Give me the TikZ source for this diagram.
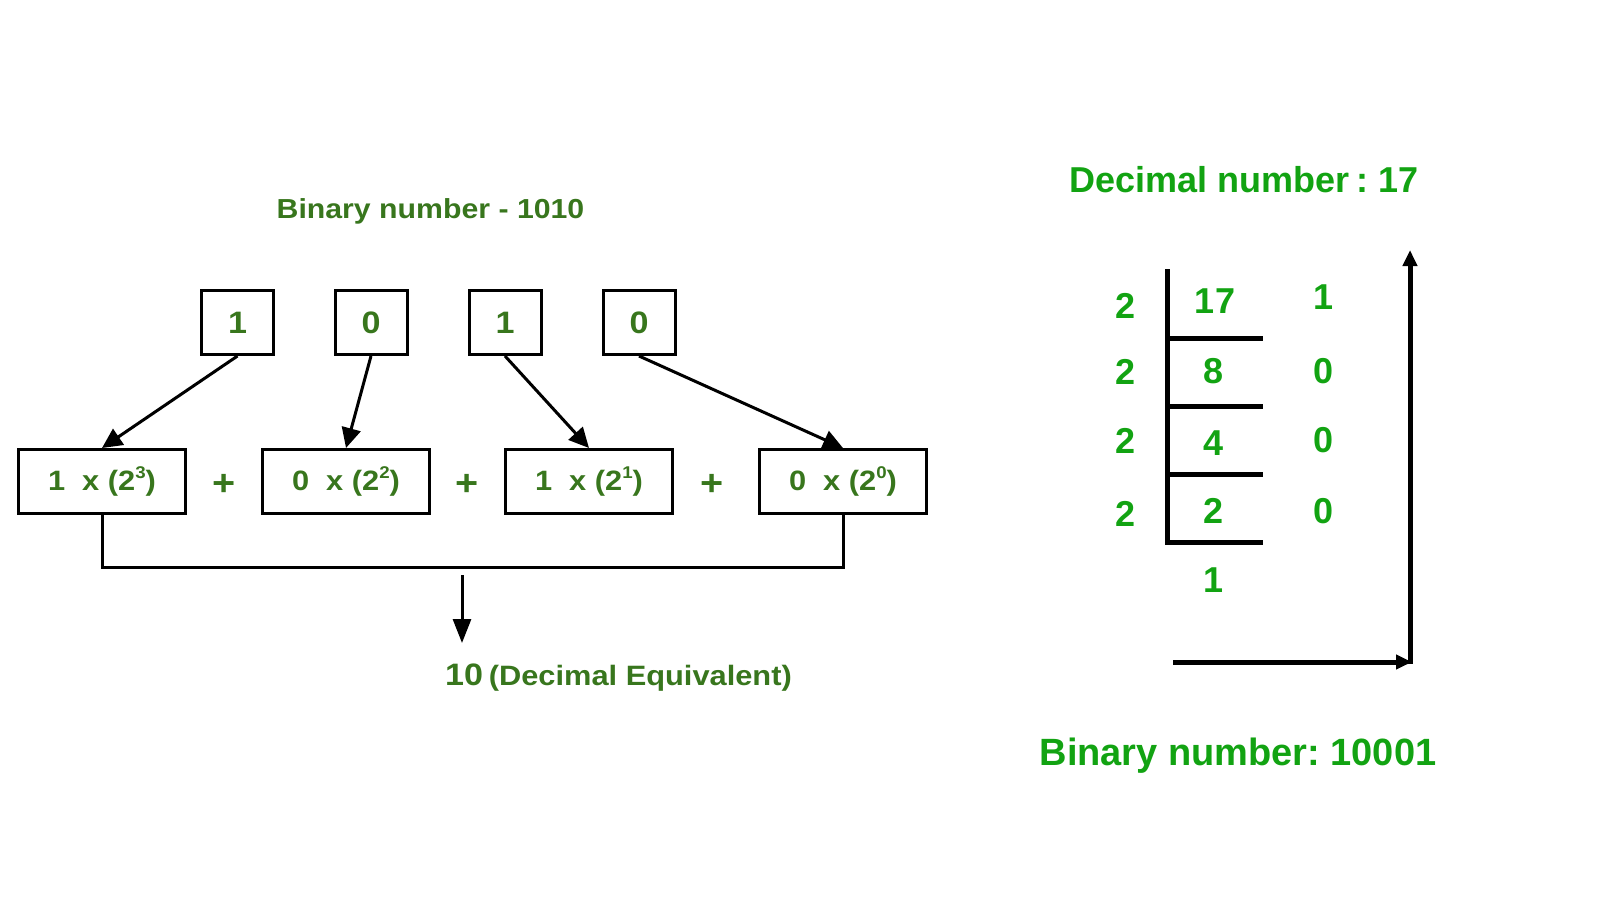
\documentclass[tikz,border=0pt]{standalone}
\usepackage{fontspec}
\setmainfont{Liberation Sans}
\newfontfamily\lfont[FakeStretch=1.1]{Liberation Sans}
\usetikzlibrary{arrows.meta}
\definecolor{dgreen}{RGB}{56,118,29}
\definecolor{bgreen}{RGB}{18,163,18}
\newcommand\supx[1]{\raisebox{0.45em}{\fontsize{17}{17}\selectfont #1}}
\begin{document}
\begin{tikzpicture}[x=1pt,y=-1pt,
  topbox/.style={draw,line width=3pt,minimum width=72pt,minimum height=64pt,inner sep=0pt,text=dgreen,font=\lfont\bfseries\fontsize{31}{31}\selectfont},
  botbox/.style={draw,line width=3pt,minimum width=167pt,minimum height=64pt,inner sep=0pt,text=dgreen,font=\lfont\bfseries\fontsize{28}{28}\selectfont},
  plussign/.style={text=dgreen,inner sep=0pt,font=\lfont\bfseries\fontsize{36}{36}\selectfont},
  ltitle/.style={text=dgreen,inner sep=0pt,anchor=base,font=\lfont\bfseries\fontsize{27.5}{27.5}\selectfont},
  conn/.style={line width=3pt,-{Triangle[length=20pt,width=19pt]}},
  resarrow/.style={line width=3pt,-{Triangle[length=24pt,width=18pt]}},
  rtext/.style={text=bgreen,inner sep=0pt,anchor=base,font=\bfseries\fontsize{36}{36}\selectfont},
  divline/.style={line width=5pt},
  bigarrow/.style={line width=5pt,-{Triangle[length=16pt,width=14pt]}}]
\useasboundingbox (0,0) rectangle (1600,900);

% ---------- left: binary to decimal ----------
\node[ltitle] (title) at (430.5,218) {Binary number - 1010};

\node[topbox] (t1) at (237.5,322.5) {1};
\node[topbox] (t2) at (371,322.5) {0};
\node[topbox] (t3) at (505,322.5) {1};
\node[topbox] (t4) at (639,322.5) {0};

\node[botbox] (b1) at (102,481.5) {1\ \ x (2\supx{3})};
\node[botbox] (b2) at (346,481.5) {0\ \ x (2\supx{2})};
\node[botbox] (b3) at (589,481.5) {1\ \ x (2\supx{1})};
\node[botbox] (b4) at (843,481.5) {0\ \ x (2\supx{0})};

\node[plussign] (p1) at (224,485) {+};
\node[plussign] (p2) at (467,485) {+};
\node[plussign] (p3) at (712,485) {+};

\draw[conn] (t1.south) -- (b1.north);
\draw[conn] (t2.south) -- (b2.north);
\draw[conn] (t3.south) -- (b3.north);
\draw[conn] (t4.south) -- (b4.north);

\coordinate (brY) at (0,567);
\draw[line width=3pt] (b1.south) -- (b1.south |- brY) -- (b4.south |- brY) -- (b4.south);

\coordinate (rs) at (462,575);
\coordinate (re) at (462,643);
\draw[resarrow] (rs) -- (re);

\node[ltitle,font=\lfont\bfseries\fontsize{28}{28}\selectfont] (res) at (618.5,685)
  {{\fontsize{31}{31}\selectfont 10}\hspace{-0.1em} (Decimal Equivalent)};

% ---------- right: decimal to binary ----------
\node[rtext] (dtitle) at (1244,192) {Decimal number\hspace{-0.08em} :\hspace{-0.1em} 17};

\draw[divline] (1167,269) -- (1167,542) -- (1263,542);
\draw[divline] (1167,338) -- (1263,338);
\draw[divline] (1167,406) -- (1263,406);
\draw[divline] (1167,474) -- (1263,474);

\node[rtext] (d1) at (1125,318) {2};
\node[rtext] (d2) at (1125,384) {2};
\node[rtext] (d3) at (1125,453) {2};
\node[rtext] (d4) at (1125,526) {2};

\node[rtext] (q1) at (1215,313) {17};
\node[rtext] (q2) at (1213,383) {8};
\node[rtext] (q3) at (1213,455) {4};
\node[rtext] (q4) at (1213,523) {2};
\node[rtext] (q5) at (1213,592) {1};

\node[rtext] (r1) at (1323,309) {1};
\node[rtext] (r2) at (1323,383) {0};
\node[rtext] (r3) at (1323,452) {0};
\node[rtext] (r4) at (1323,523) {0};

\coordinate (hs) at (1173,662);
\coordinate (corner) at (1412,662);
\coordinate (vtop) at (1410,250);
\draw[bigarrow] (hs) -- (corner);
\draw[bigarrow] (1410,664) -- (vtop);

\node[rtext,font=\bfseries\fontsize{38}{38}\selectfont] (btitle) at (1238,765) {Binary number:\hspace{-0.1em} 10001};
\end{tikzpicture}
\end{document}
